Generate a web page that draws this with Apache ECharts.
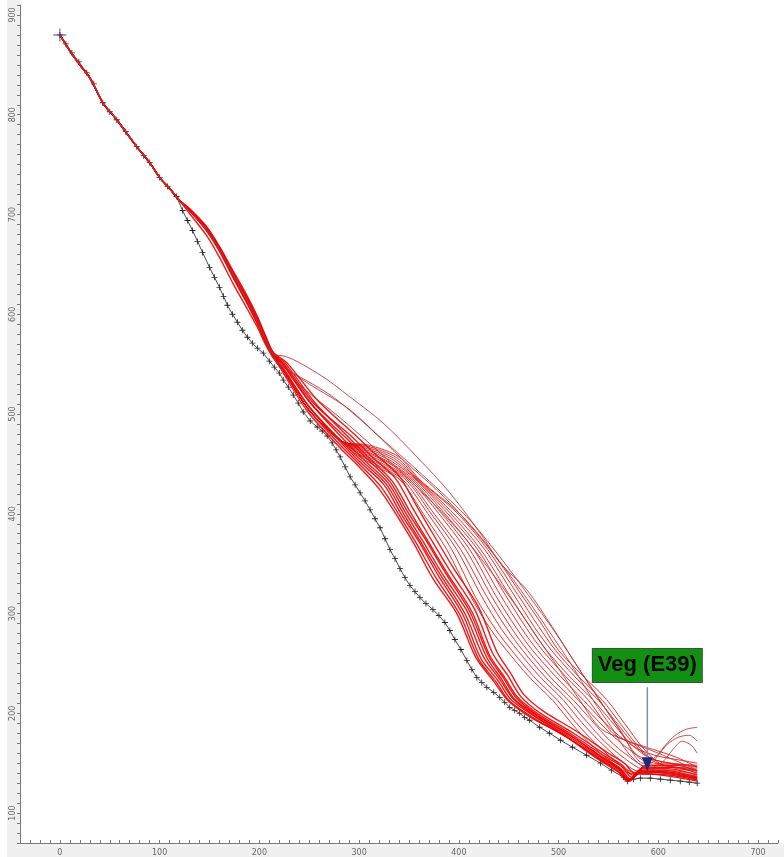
<!DOCTYPE html>
<html>
<head>
<meta charset="utf-8">
<script src="https://cdn.jsdelivr.net/npm/echarts@6/dist/echarts.min.js"></script>
<style>
html,body{margin:0;padding:0;background:#fff;}
#chart{width:784px;height:857px;}
</style>
</head>
<body>
<div id="chart"></div>
<script>
// Measured profile (black, "+" markers)
const measured = [
  [0,880],[6,871],[12,862],[19,853],[27,842],[34,831],[43,812],[50,803],[57,795],[66,783],
  [77,768],[84,759],[90,752],[100,737],[108,728],[117,718],[123,704],[128,694],[133,684],[138,673],
  [143,662],[150,647],[155,637],[160,627],[164,618],[168,609],[173,600],[178,592],[183,584],[188,577],
  [193,571],[198,566],[204,561],[210,553],[215,547],[220,541],[224,534],[229,527],[234,519],[239,511],
  [244,502],[251,493],[258,487],[263,483],[268,478],[273,471],[277,464],[281,457],[286,447],[291,437],
  [296,429],[301,421],[306,413],[311,404],[316,395],[321,386],[326,375],[331,364],[336,355],[341,345],
  [346,336],[351,328],[356,322],[361,316],[367,310],[374,304],[380,298],[386,291],[391,283],[396,274],
  [402,264],[408,253],[413,244],[418,236],[423,231],[428,226],[435,221],[441,216],[446,211],[451,206],
  [456,203],[461,200],[466,196],[471,193],[481,186],[491,180],[502,173],[514,166],[528,158],[542,150],
  [553,143],[565,136],[569,132],[575,134],[582,135],[592,135],[602,134],[612,133],[622,132],[631,131],[639,130]
];

// Start of every modelled profile (shared with the measurement)
const sharedStart = [[0,880],[10,864],[20,850],[30,837],[43,812],[57,795],[77,768],[90,752],[100,737],[110,726],[120,714]];
// Common upper path before the crossing
const midPath = [[130,704],[147,685],[160,665],[174,639],[188,613],[198,593],[206,575],[214,559]];
// Path shared by the fan down to its knee
const kneePath = [[221,549],[248,506],[266,487],[284,472]];

// Steep main bundle
const bundleA = [
  [[130,704],[147,684],[160,663],[174,636],[188,610],[198,590],[206,572],[214,557],[221,546],[248,503],[281,466],[301,446],[320,425],[338,398],[355,370],[374,335],[398,300],[417,256],[435,232],[450,212],[472,196],[507,177],[541,154],[560,142],[570,133],[580,140],[610,137],[639,132]],
  [[130,704],[147,685],[160,665],[174,638],[188,612],[198,592],[206,574],[214,558],[222,549],[250,507],[283,470],[303,450],[325,429],[342,400],[360,372],[380,337],[404,299],[422,255],[439,233],[453,213],[476,197],[509,176],[542,154],[561,143],[571,132],[582,141],[612,140],[639,134]],
  [[130,705],[147,686],[160,666],[174,640],[188,614],[198,594],[206,576],[214,560],[224,550],[253,509],[286,473],[306,453],[329,431],[346,402],[363,374],[384,339],[409,301],[428,256],[443,234],[456,214],[478,198],[511,178],[544,156],[562,145],[572,134],[584,143],[614,142],[639,136]],
  [[130,705],[147,687],[160,667],[174,641],[188,616],[198,596],[206,578],[214,561],[226,551],[256,511],[290,476],[310,456],[333,433],[350,404],[367,376],[388,341],[413,302],[431,258],[446,236],[459,216],[480,199],[513,179],[546,157],[563,147],[573,136],[585,145],[615,144],[639,138]],
  [[130,704],[147,685],[160,665],[174,639],[188,613],[198,593],[206,575],[214,559],[223,550],[252,510],[288,475],[308,455],[331,432],[348,403],[366,375],[387,340],[411,302],[430,257],[445,235],[458,215],[479,198],[512,178],[545,155],[562,144],[572,133],[583,142],[613,141],[639,135]],
  [[130,705],[147,686],[160,666],[174,640],[188,615],[198,595],[206,577],[214,560],[225,550],[255,510],[292,478],[312,458],[336,436],[353,407],[370,378],[391,343],[416,304],[434,260],[449,238],[462,217],[482,200],[515,180],[548,158],[564,148],[574,138],[586,146],[616,146],[639,140]],
  [[130,706],[147,688],[160,668],[174,643],[188,618],[198,598],[206,579],[214,562],[228,551],[259,513],[295,480],[316,460],[340,438],[357,409],[374,380],[395,345],[420,306],[438,262],[452,240],[465,219],[485,202],[518,182],[550,160],[566,150],[576,140],[588,148],[618,148],[639,142]],
  [[130,704],[147,684],[160,664],[174,637],[188,611],[198,591],[206,573],[214,558],[221,548],[249,505],[282,468],[302,448],[322,427],[340,399],[357,371],[377,336],[401,299],[420,254],[437,232],[451,212],[474,196],[508,176],[541,153],[560,141],[569,132],[581,139],[611,138],[639,133]],
  [[130,701],[147,679],[160,657],[174,630],[188,605],[198,587],[206,570],[214,556],[222,547],[251,506],[285,470],[305,451],[327,430],[344,401],[361,373],[382,338],[406,300],[425,256],[441,234],[455,214],[477,197],[510,177],[543,155],[561,144],[571,134],[583,142],[613,139],[639,134]]
];

// Fan leaving the main bundle at the knee
const bundleB = [
  [[298,459],[318,447],[341,434],[365,399],[388,364],[412,317],[432,284],[448,263],[470,237],[494,213],[513,190],[531,170],[552,152],[571,140],[600,139],[639,135]],
  [[299,460],[320,448],[344,434],[369,400],[393,364],[417,316],[437,284],[453,263],[475,237],[499,213],[518,190],[536,171],[557,152],[575,141],[606,140],[639,136]],
  [[300,460],[322,449],[347,434],[373,399],[398,364],[423,317],[443,284],[459,263],[481,237],[505,213],[523,191],[541,172],[562,153],[580,142],[610,141],[639,137]],
  [[301,461],[324,450],[349,434],[376,399],[402,364],[428,317],[448,285],[464,263],[487,236],[510,213],[528,192],[546,172],[566,155],[585,144],[612,143],[639,139]],
  [[302,462],[326,451],[351,434],[380,400],[407,364],[433,317],[453,285],[469,263],[492,236],[515,213],[533,193],[551,173],[570,157],[590,146],[615,146],[639,142]],
  [[303,463],[328,452],[353,434],[383,400],[411,364],[437,318],[458,285],[474,263],[497,237],[520,213],[538,194],[556,176],[576,160],[596,150],[618,149],[639,146]],
  [[304,464],[330,452],[355,434],[386,400],[415,364],[442,318],[463,285],[479,263],[502,237],[525,213],[542,195],[560,178],[580,164],[600,157],[622,153],[639,150]],
  [[305,465],[332,453],[357,434],[389,400],[419,364],[447,318],[468,285],[484,263],[507,237],[530,213],[545,192],[558,177],[588,166],[618,156],[639,146]],
  [[306,466],[334,454],[358,434],[392,400],[422,364],[451,318],[472,286],[488,263],[511,237],[535,213],[552,193],[569,173],[588,157],[610,150],[639,147]],
  [[307,467],[336,455],[359,434],[395,400],[426,364],[455,319],[476,286],[493,263],[516,237],[540,213],[557,192],[574,171],[592,155],[614,150],[639,148]],
  [[308,468],[338,456],[360,434],[398,401],[429,364],[459,319],[480,287],[497,263],[520,237],[544,213],[561,191],[579,168],[597,151],[618,146],[639,145]],
  [[309,469],[340,457],[361,434],[400,401],[432,364],[462,320],[484,288],[500,263],[524,238],[548,214],[566,190],[584,166],[601,150],[622,144],[639,143]]
];

// Outer profiles leaving at the crossing
const bundleC = [
  [[218,559],[258,541],[291,517],[324,491],[358,457],[391,421],[424,377],[441,351],[468,324],[494,286],[515,253],[539,216],[562,183],[585,150],[597,156],[607,168],[617,178],[628,184],[639,186]],
  [[218,551],[274,517],[324,474],[358,444],[408,397],[441,357],[470,318],[496,282],[517,250],[540,215],[560,185],[578,158],[592,150],[600,158],[609,169],[620,176],[631,178],[639,172]],
  [[218,552],[250,530],[291,504],[341,457],[391,411],[441,352],[466,318],[490,283],[512,250],[534,214],[553,186],[570,160],[590,145],[605,152],[614,163],[624,172],[633,168],[639,160]],
  [[218,550],[245,525],[280,497],[320,462],[360,425],[400,383],[430,345],[455,311],[478,277],[500,245],[522,212],[542,185],[567,173],[600,160],[639,143]]
];

// Annotation
const markerLabel = 'Veg (E39)';
const markerX = 589;
const markerLineTop = 226;
const markerLineBottom = 156;
const markerArrowY = 149;
const markerBoxY = 248;

const xTickLabels = [0,100,200,300,400,500,600,700];
const yTickLabels = [100,200,300,400,500,600,700,800,900];

const plusPath = 'path://M4.3,0h1.4v10h-1.4zM0,4.3h10v1.4h-10z';
const thinPlusPath = 'path://M9.3,0h1.4v20h-1.4zM0,9.3h20v1.4h-20z';

const series = [];
series.push({
  type: 'line', data: measured, z: 2,
  symbol: plusPath, symbolSize: 6, showAllSymbol: true,
  itemStyle: { color: '#262626' },
  lineStyle: { color: '#4a4a4a', width: 1 },
  silent: true, animation: false
});
function addRed(list, prefix, color, width) {
  list.forEach(branch => {
    series.push({
      type: 'line', data: sharedStart.concat(prefix, branch), z: 3,
      smooth: 0.3, showSymbol: false,
      lineStyle: { color: color, width: width },
      silent: true, animation: false
    });
  });
}
addRed(bundleA, [], 'rgba(235,0,0,0.9)', 1.4);
addRed(bundleB, midPath.concat(kneePath), 'rgba(220,15,15,0.85)', 1);
addRed(bundleC, midPath, 'rgba(190,45,45,0.85)', 1);

// start marker
series.push({
  type: 'scatter', data: [measured[0]], z: 6,
  symbol: thinPlusPath, symbolSize: 13,
  itemStyle: { color: '#4b3a8c', opacity: 1 }, silent: true, animation: false
});
// callout stem
series.push({
  type: 'line', data: [[markerX, markerLineTop],[markerX, markerLineBottom]], z: 6,
  showSymbol: false, lineStyle: { color: '#8090a8', width: 1.5 },
  silent: true, animation: false
});
// callout arrowhead
series.push({
  type: 'scatter', data: [[markerX, markerArrowY]], z: 7,
  symbol: 'triangle', symbolRotate: 180, symbolSize: [11, 14],
  itemStyle: { color: '#1c2a80', opacity: 1 }, silent: true, animation: false
});
// callout box
series.push({
  type: 'scatter', data: [[markerX, markerBoxY]], z: 8,
  symbolSize: 0, silent: true, animation: false,
  itemStyle: { opacity: 1 },
  label: {
    show: true, position: 'inside', formatter: markerLabel,
    fontFamily: 'Liberation Sans, Arial, sans-serif', fontWeight: 'bold', fontSize: 22,
    color: '#080808', backgroundColor: '#139013', borderColor: '#2e5e2e', borderWidth: 1,
    padding: [4, 5, 3, 5], lineHeight: 26
  }
});

const chart = echarts.init(document.getElementById('chart'), null, { renderer: 'canvas' });
chart.setOption({
  backgroundColor: '#ffffff',
  animation: false,
  graphic: [
    { type: 'rect', shape: { x: 7, y: 0, width: 13, height: 857 }, style: { fill: '#f0f0f0' }, z: -10 },
    { type: 'rect', shape: { x: 7, y: 843, width: 777, height: 14 }, style: { fill: '#f0f0f0' }, z: -10 }
  ],
  grid: { left: 20, right: 6, top: 5, bottom: 14, containLabel: false },
  xAxis: {
    type: 'value', min: -40, max: 720, interval: 10,
    axisLine: { show: true, onZero: false, lineStyle: { color: '#7a7a7a', width: 1 } },
    axisTick: { show: true, inside: true, length: 3, lineStyle: { color: '#7a7a7a' } },
    splitLine: { show: false },
    axisLabel: {
      margin: 6, fontSize: 8, color: '#666', fontFamily: 'DejaVu Sans, sans-serif',
      formatter: v => xTickLabels.includes(v) ? String(v) : ''
    }
  },
  yAxis: {
    type: 'value', min: 70, max: 910, interval: 10,
    axisLine: { show: true, onZero: false, lineStyle: { color: '#7a7a7a', width: 1 } },
    axisTick: { show: true, length: 3, lineStyle: { color: '#7a7a7a' } },
    splitLine: { show: false },
    axisLabel: {
      rotate: 90, margin: 3, fontSize: 8, color: '#666', fontFamily: 'DejaVu Sans, sans-serif',
      formatter: v => yTickLabels.includes(v) ? String(v) : ''
    }
  },
  series: series
});
</script>
</body>
</html>
